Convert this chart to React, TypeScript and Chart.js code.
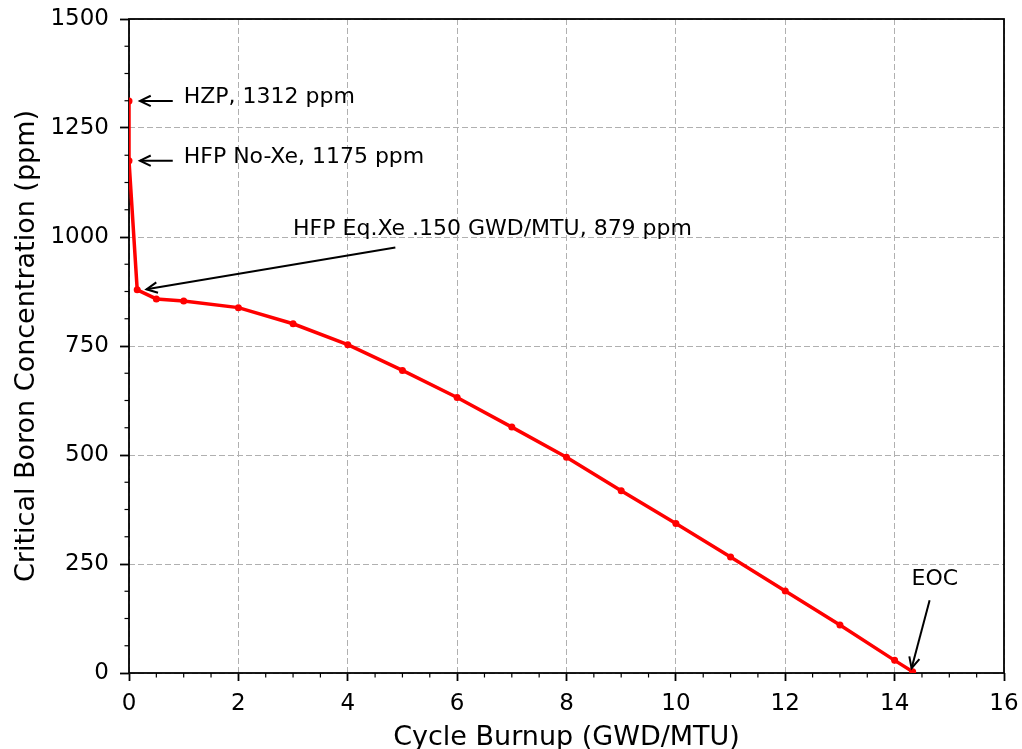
import React, { useEffect, useRef } from "react";
import { Chart, registerables } from "chart.js";

Chart.register(...registerables);

// Data
const burnup = [0, 0, 0.15, 0.5, 1, 2, 3, 4, 5, 6, 7, 8, 9, 10, 11, 12, 13, 14, 14.33];
const boron = [1312, 1175, 879, 858, 853, 838, 801, 753, 694, 632, 564, 495, 418, 343, 266, 188, 110, 29, 3];

const xRange = [0, 16];
const yRange = [0, 1500];
const xMajorStep = 2;
const yMajorStep = 250;
const xMinorStep = 0.5;
const yMinorStep = 62.5;

const xTitle = "Cycle Burnup (GWD/MTU)";
const yTitle = "Critical Boron Concentration (ppm)";

// Annotations: text anchor (left, middle) and arrow tail -> head, in data units
const annoTexts = ["HZP, 1312 ppm", "HFP No-Xe, 1175 ppm", "HFP Eq.Xe .150 GWD/MTU, 879 ppm", "EOC"];
const annoTextX = [1.0, 1.0, 3.0, 14.31];
const annoTextY = [1320, 1183, 1018, 216];
const annoTailX = [0.8, 0.8, 4.87, 14.64];
const annoTailY = [1312, 1175, 976, 167];
const annoHeadX = [0.2, 0.2, 0.32, 14.31];
const annoHeadY = [1312, 1175, 880, 11];

const FONT = "'DejaVu Sans', sans-serif";

const zeroPad = (s: any) => {
  s.paddingTop = 0;
  s.paddingBottom = 0;
  s.paddingLeft = 0;
  s.paddingRight = 0;
};

const framePlugin = {
  id: "frameAndMinor",
  beforeDatasetsDraw(chart: any) {
    const { ctx, chartArea } = chart;
    const xs = chart.scales.x;
    const ys = chart.scales.y;
    ctx.save();
    ctx.strokeStyle = "#000";
    ctx.lineWidth = 1.2;
    for (let v = xRange[0]; v <= xRange[1] + 1e-9; v += xMinorStep) {
      if (Math.abs(v / xMajorStep - Math.round(v / xMajorStep)) < 1e-6) continue;
      const px = xs.getPixelForValue(v);
      ctx.beginPath();
      ctx.moveTo(px, chartArea.bottom);
      ctx.lineTo(px, chartArea.bottom + 4.5);
      ctx.stroke();
    }
    for (let v = yRange[0]; v <= yRange[1] + 1e-9; v += yMinorStep) {
      if (Math.abs(v / yMajorStep - Math.round(v / yMajorStep)) < 1e-6) continue;
      const py = ys.getPixelForValue(v);
      ctx.beginPath();
      ctx.moveTo(chartArea.left, py);
      ctx.lineTo(chartArea.left - 4.5, py);
      ctx.stroke();
    }
    ctx.lineWidth = 1.8;
    ctx.strokeRect(chartArea.left, chartArea.top, chartArea.right - chartArea.left, chartArea.bottom - chartArea.top);
    ctx.restore();
  },
  afterDatasetsDraw(chart: any) {
    const { ctx } = chart;
    const xs = chart.scales.x;
    const ys = chart.scales.y;
    ctx.save();
    ctx.font = `22px ${FONT}`;
    ctx.fillStyle = "#000";
    ctx.textAlign = "left";
    ctx.textBaseline = "middle";
    for (let i = 0; i < annoTexts.length; i++) {
      ctx.fillText(annoTexts[i], xs.getPixelForValue(annoTextX[i]), ys.getPixelForValue(annoTextY[i]));
      const x1 = xs.getPixelForValue(annoTailX[i]);
      const y1 = ys.getPixelForValue(annoTailY[i]);
      const x2 = xs.getPixelForValue(annoHeadX[i]);
      const y2 = ys.getPixelForValue(annoHeadY[i]);
      ctx.strokeStyle = "#000";
      ctx.lineWidth = 2;
      ctx.beginPath();
      ctx.moveTo(x1, y1);
      ctx.lineTo(x2, y2);
      ctx.stroke();
      const ang = Math.atan2(y2 - y1, x2 - x1);
      const hl = 12;
      const hw = 0.45;
      ctx.beginPath();
      ctx.moveTo(x2 - hl * Math.cos(ang - hw), y2 - hl * Math.sin(ang - hw));
      ctx.lineTo(x2, y2);
      ctx.lineTo(x2 - hl * Math.cos(ang + hw), y2 - hl * Math.sin(ang + hw));
      ctx.stroke();
    }
    ctx.restore();
  },
};

export default function App() {
  const canvasRef = useRef<HTMLCanvasElement | null>(null);

  useEffect(() => {
    document.body.style.margin = "0";
    const canvas = canvasRef.current;
    if (!canvas) return;
    const points = burnup.map((x, i) => ({ x, y: boron[i] }));
    const chart = new Chart(canvas, {
      type: "line",
      data: {
        datasets: [
          {
            data: points,
            borderColor: "#ff0000",
            backgroundColor: "#ff0000",
            borderWidth: 3.5,
            pointRadius: 3.5,
            pointBorderWidth: 0,
            pointBackgroundColor: "#ff0000",
            tension: 0,
            fill: false,
          },
        ],
      },
      options: {
        animation: false,
        responsive: false,
        devicePixelRatio: 1,
        layout: { autoPadding: false, padding: { left: 0, right: 18, top: 19, bottom: 0 } },
        plugins: { legend: { display: false }, tooltip: { enabled: false } },
        scales: {
          x: {
            type: "linear",
            min: xRange[0],
            max: xRange[1],
            afterFit: (s: any) => {
              s.height = 76;
              zeroPad(s);
            },
            ticks: {
              stepSize: xMajorStep,
              color: "#000",
              font: { family: FONT, size: 23 },
              padding: 9,
              callback: (v: any) => String(v),
            },
            grid: {
              color: "#b0b0b0",
              lineWidth: 1,
              tickColor: "#000",
              tickLength: 8,
              tickWidth: 1.8,
            },
            border: { display: false, dash: [6, 3] },
            title: {
              display: true,
              text: xTitle,
              color: "#000",
              font: { family: FONT, size: 27, lineHeight: 0.85 },
              padding: { top: 0, bottom: 0 },
            },
          },
          y: {
            type: "linear",
            min: yRange[0],
            max: yRange[1],
            afterFit: (s: any) => {
              s.width = 129;
              zeroPad(s);
            },
            ticks: {
              stepSize: yMajorStep,
              color: "#000",
              font: { family: FONT, size: 23 },
              padding: 11,
              callback: (v: any) => String(v),
            },
            grid: {
              color: "#b0b0b0",
              lineWidth: 1,
              tickColor: "#000",
              tickLength: 9,
              tickWidth: 1.8,
            },
            border: { display: false, dash: [6, 3] },
            title: {
              display: true,
              text: yTitle,
              color: "#000",
              font: { family: FONT, size: 27, lineHeight: 1.0 },
              padding: { top: 13, bottom: 0 },
            },
          },
        },
      },
      plugins: [framePlugin],
    } as any);
    return () => chart.destroy();
  }, []);

  return (
    <div style={{ width: 1022, height: 749 }}>
      <canvas ref={canvasRef} width={1022} height={749} style={{ display: "block" }} />
    </div>
  );
}
